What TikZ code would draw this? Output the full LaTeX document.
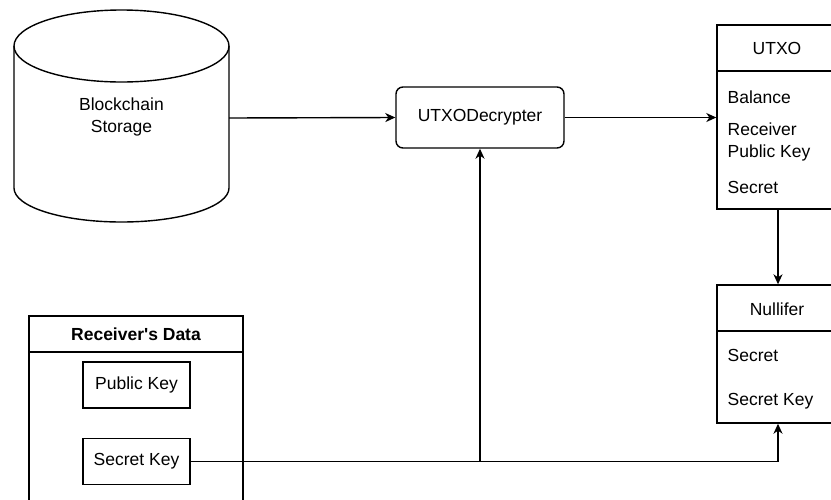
\documentclass[tikz,border=0pt]{standalone}
\usepackage{fontspec}
\setmainfont{Liberation Sans}[Ligatures=TeXOff]
\usetikzlibrary{arrows.meta,calc}
\begin{document}
\begin{tikzpicture}[x=1pt,y=-1pt,
  line width=1.4pt,
  every node/.style={font=\fontsize{17.5}{22}\selectfont, inner sep=0pt},
  box/.style={draw, rectangle},
  txt/.style={anchor=west, align=left},
  arr/.style={-{Stealth[length=10pt,width=9pt,inset=3pt]}}
]
\useasboundingbox (0,0) rectangle (831,499);
% Cylinder
\draw (14,46) -- (14,188) arc[start angle=180,end angle=0,x radius=107.5,y radius=34] -- (229,46)
      arc[start angle=0,end angle=-180,x radius=107.5,y radius=36];
\draw (14,46) arc[start angle=180,end angle=0,x radius=107.5,y radius=36];
\node[align=center] (bc) at (121.5,117) {Blockchain\\Storage};
\coordinate (bcr) at (229,118);
% Decrypter
\node[box, rounded corners=7pt, minimum width=168pt, minimum height=61pt] (dec) at (480,117.5) {UTXODecrypter};
% UTXO
\node[box, minimum width=120pt, minimum height=184pt] (utxo) at (777,117) {};
\draw (717,71) -- (837,71);
\node (utxoh) at (777,48) {UTXO};
\node[txt] (bal) at (727,97) {Balance};
\node[txt] (rpk) at (727,142) {Receiver\\Public Key};
\node[txt] (sec) at (727,187) {Secret};
% Nullifer
\node[box, minimum width=120pt, minimum height=138pt] (nul) at (777,354) {};
\draw (717,331) -- (837,331);
\node (nulh) at (777,309) {Nullifer};
\node[txt] (ns) at (727,355) {Secret};
\node[txt] (nsk) at (727,401) {Secret Key};
% Receiver's Data
\draw (29,530) -- (29,316) -- (243,316) -- (243,530);
\draw (29,352) -- (243,352);
\node[font=\fontsize{17.5}{22}\selectfont\bfseries] (rdh) at (136,334) {Receiver's Data};
\node[box, minimum width=107pt, minimum height=46pt] (pk) at (136.5,385) {Public Key};
\node[box, minimum width=107pt, minimum height=46pt] (sk) at (136.5,461.5) {Secret Key};
% connectors
\draw[arr] (bcr) -- (dec.west);
\draw[arr] (dec.east) -- (dec.east -| utxo.west);
\draw[arr] ($(utxo.south)+(1,0)$) -- ($(nul.north)+(1,0)$);
\coordinate (j) at (dec.south |- sk.east);
\draw[arr] (sk.east) -| ($(nul.south)+(1,0)$);
\draw[arr] (j) -- (dec.south);
\end{tikzpicture}
\end{document}
